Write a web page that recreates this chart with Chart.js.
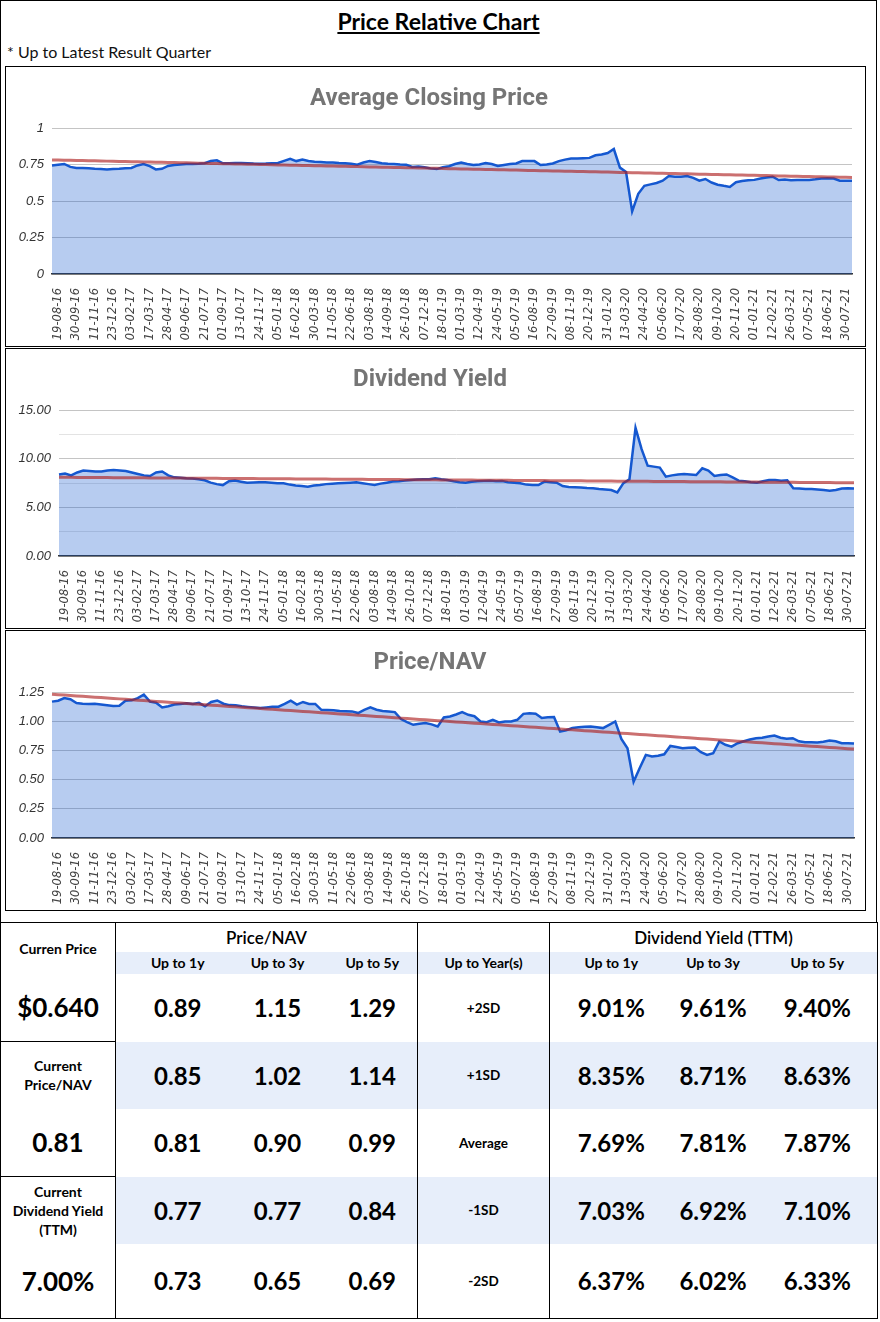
<!DOCTYPE html>
<html>
<head>
<meta charset="utf-8">
<script src="https://cdn.jsdelivr.net/npm/chart.js@4.4.0/dist/chart.umd.min.js"></script>
<style>
  body { margin: 0; background: #fff; font-family: Lato, 'Noto Sans', sans-serif; }
  #frame { position: absolute; left: 0; top: 0; width: 877px; height: 923px; border: 1px solid #000; box-sizing: border-box; }
  #title { position: absolute; top: 7px; left: 0; width: 877px; text-align: center; font: bold 23px/28px Lato, sans-serif; text-decoration: underline; }
  #note { position: absolute; top: 42px; left: 7px; font: 16px/19px Lato, sans-serif; color: #111; }
  .box { position: absolute; left: 5px; width: 861px; height: 281px; border: 1px solid #000; box-sizing: border-box; }
  .box div { position: relative; width: 859px; height: 279px; }
  table { position: absolute; left: 0; top: 922px; width: 877px; border-collapse: collapse; table-layout: fixed; }
  td { padding: 0; text-align: center; vertical-align: middle; font-weight: bold; color: #000; }
  .blue td { background: #e7eefa; }
  .blue td.left { background: #fff; }
  .lbl { font-size: 14px; line-height: 19px; }
  .grp { font-size: 17px; font-weight: 600; }
  .num { font-size: 24px; }
  .big { font-size: 26px; }
  .sd { font-size: 13.5px; }
  .vl { border-left: 1px solid #000; }
  .bb { border-bottom: 1px solid #000; }
  .p1 { padding-left: 12px; }
  .p5 { padding-left: 14px; }
  .p7 { padding-right: 10px; }
</style>
</head>
<body>
<div id="frame"></div>
<div id="title">Price Relative Chart</div>
<div id="note">* Up to Latest Result Quarter</div>
<div class="box" style="top:66px"><div><canvas id="c1"></canvas></div></div>
<div class="box" style="top:348px"><div><canvas id="c2"></canvas></div></div>
<div class="box" style="top:630px"><div><canvas id="c3"></canvas></div></div>
<table id="stats">
  <colgroup>
    <col style="width:115px"><col style="width:112px"><col style="width:100px"><col style="width:90px">
    <col style="width:132px"><col style="width:109px"><col style="width:109px"><col style="width:110px">
  </colgroup>
</table>
<script>
// x axis tick dates (every 6 weeks)
const tickDates = ['19-08-16', '30-09-16', '11-11-16', '23-12-16', '03-02-17', '17-03-17', '28-04-17', '09-06-17',
  '21-07-17', '01-09-17', '13-10-17', '24-11-17', '05-01-18', '16-02-18', '30-03-18', '11-05-18', '22-06-18',
  '03-08-18', '14-09-18', '26-10-18', '07-12-18', '18-01-19', '01-03-19', '12-04-19', '24-05-19', '05-07-19',
  '16-08-19', '27-09-19', '08-11-19', '20-12-19', '31-01-20', '13-03-20', '24-04-20', '05-06-20', '17-07-20',
  '28-08-20', '09-10-20', '20-11-20', '01-01-21', '12-02-21', '26-03-21', '07-05-21', '18-06-21', '30-07-21'];

// fortnightly readings, one before the first tick and one after the last
const closingPrice = [0.745,
  0.75, 0.755, 0.735, 0.728, 0.728, 0.725, 0.722, 0.72, 0.718, 0.72, 0.722, 0.726,
  0.728, 0.745, 0.755, 0.74, 0.718, 0.722, 0.742, 0.748, 0.752, 0.755, 0.755, 0.757,
  0.76, 0.775, 0.78, 0.76, 0.76, 0.762, 0.762, 0.76, 0.758, 0.757, 0.758, 0.76,
  0.762, 0.776, 0.79, 0.775, 0.785, 0.775, 0.77, 0.768, 0.766, 0.765, 0.762, 0.76,
  0.757, 0.75, 0.765, 0.776, 0.768, 0.76, 0.757, 0.755, 0.752, 0.75, 0.735, 0.738,
  0.733, 0.725, 0.72, 0.733, 0.74, 0.755, 0.765, 0.755, 0.748, 0.752, 0.762, 0.755,
  0.741, 0.748, 0.755, 0.759, 0.775, 0.775, 0.775, 0.748, 0.752, 0.759, 0.775, 0.785,
  0.793, 0.792, 0.795, 0.797, 0.815, 0.82, 0.83, 0.858, 0.73, 0.70, 0.43, 0.55,
  0.605, 0.615, 0.625, 0.64, 0.672, 0.668, 0.668, 0.673, 0.66, 0.64, 0.652, 0.628,
  0.613, 0.605, 0.598, 0.63, 0.638, 0.643, 0.646, 0.655, 0.662, 0.668, 0.645, 0.648,
  0.644, 0.646, 0.645, 0.646, 0.65, 0.655, 0.658, 0.655, 0.64, 0.64,
  0.64];

const dividendYield = [8.4,
  8.5, 8.3, 8.6, 8.8, 8.75, 8.7, 8.7, 8.8, 8.86, 8.8, 8.75, 8.6,
  8.45, 8.3, 8.24, 8.6, 8.7, 8.3, 8.1, 8.05, 8.0, 7.97, 7.9, 7.8,
  7.55, 7.4, 7.3, 7.69, 7.76, 7.65, 7.55, 7.56, 7.58, 7.59, 7.55, 7.5,
  7.48, 7.35, 7.25, 7.2, 7.14, 7.25, 7.31, 7.4, 7.45, 7.48, 7.52, 7.55,
  7.59, 7.5, 7.4, 7.31, 7.45, 7.55, 7.66, 7.7, 7.78, 7.83, 7.87, 7.9,
  7.9, 8.0, 7.9, 7.83, 7.7, 7.6, 7.55, 7.65, 7.7, 7.72, 7.75, 7.7,
  7.72, 7.6, 7.55, 7.48, 7.35, 7.3, 7.31, 7.66, 7.6, 7.55, 7.2, 7.1,
  7.07, 7.05, 7.0, 6.97, 6.9, 6.85, 6.79, 6.55, 7.5, 7.9, 13.2, 11.0,
  9.3, 9.2, 9.1, 8.17, 8.3, 8.4, 8.45, 8.4, 8.34, 9.03, 8.8, 8.24,
  8.34, 8.4, 8.1, 7.76, 7.7, 7.6, 7.55, 7.7, 7.83, 7.83, 7.75, 7.8,
  6.97, 6.95, 6.9, 6.9, 6.85, 6.8, 6.72, 6.8, 6.95, 6.97,
  6.95];

const priceNav = [1.17,
  1.178, 1.2, 1.19, 1.158, 1.152, 1.15, 1.152, 1.145, 1.138, 1.132, 1.135, 1.178,
  1.181, 1.2, 1.23, 1.17, 1.16, 1.12, 1.13, 1.145, 1.15, 1.155, 1.15, 1.16,
  1.13, 1.167, 1.18, 1.152, 1.14, 1.138, 1.13, 1.125, 1.12, 1.115, 1.12, 1.125,
  1.126, 1.15, 1.178, 1.144, 1.167, 1.15, 1.15, 1.1, 1.098, 1.095, 1.09, 1.088,
  1.086, 1.072, 1.1, 1.12, 1.1, 1.09, 1.086, 1.08, 1.02, 0.994, 0.971, 0.98,
  0.986, 0.975, 0.957, 1.034, 1.043, 1.06, 1.08, 1.057, 1.045, 1.0, 0.994, 1.014,
  0.991, 1.0, 1.0, 1.014, 1.065, 1.07, 1.066, 1.03, 1.035, 1.037, 0.914, 0.925,
  0.943, 0.95, 0.955, 0.957, 0.95, 0.943, 0.971, 1.0, 0.85, 0.77, 0.483, 0.6,
  0.713, 0.70, 0.705, 0.718, 0.79, 0.78, 0.77, 0.775, 0.776, 0.736, 0.713, 0.727,
  0.828, 0.8, 0.784, 0.813, 0.83, 0.845, 0.856, 0.86, 0.87, 0.879, 0.86, 0.851,
  0.856, 0.83, 0.822, 0.822, 0.82, 0.825, 0.836, 0.83, 0.813, 0.813,
  0.81];

// y tick labels
const priceTicks = ['0', '0.25', '0.5', '0.75', '1'];
const yieldTicks = ['0.00', '5.00', '10.00', '15.00'];
const navTicks = ['0.00', '0.25', '0.50', '0.75', '1.00', '1.25'];

// table values
const sdLabels = ['+2SD', '+1SD', 'Average', '-1SD', '-2SD'];
const navUp1y = ['0.89', '0.85', '0.81', '0.77', '0.73'];
const navUp3y = ['1.15', '1.02', '0.90', '0.77', '0.65'];
const navUp5y = ['1.29', '1.14', '0.99', '0.84', '0.69'];
const dyUp1y = ['9.01%', '8.35%', '7.69%', '7.03%', '6.37%'];
const dyUp3y = ['9.61%', '8.71%', '7.81%', '6.92%', '6.02%'];
const dyUp5y = ['9.40%', '8.63%', '7.87%', '7.10%', '6.33%'];
const leftCells = ['$0.640', 'Current<br>Price/NAV', '0.81', 'Current<br>Dividend Yield<br>(TTM)', '7.00%'];

// one label slot per reading, dates only on every third
const labels = [''];
tickDates.forEach((d, i) => {
    labels.push(d);
    if (i < tickDates.length - 1) labels.push('', '');
});
labels.push('');

function trendOf(values) {
    const n = values.length;
    let sx = 0, sy = 0, sxx = 0, sxy = 0;
    values.forEach((v, i) => { sx += i; sy += v; sxx += i * i; sxy += i * v; });
    const b = (n * sxy - sx * sy) / (n * sxx - sx * sx);
    const a = (sy - b * sx) / n;
    return values.map((v, i) => a + b * i);
}

Chart.defaults.font.family = "'Liberation Sans', Arial, sans-serif";

function createChart(id, title, values, yMax, step, ticks, yWidth, rightPad, titleTop) {
    const major = step * 2;
    new Chart(document.getElementById(id), {
        type: 'line',
        data: {
            labels: labels,
            datasets: [{
                data: trendOf(values),
                borderColor: 'rgba(175, 35, 35, 0.65)',
                borderWidth: 3,
                pointRadius: 0,
                fill: false,
                order: 0
            }, {
                data: values,
                borderColor: '#1558d0',
                borderWidth: 2.5,
                backgroundColor: 'rgba(17, 85, 204, 0.3)',
                pointRadius: 0,
                tension: 0,
                fill: 'origin',
                order: 1
            }]
        },
        options: {
            responsive: true,
            maintainAspectRatio: false,
            animation: false,
            layout: { padding: { left: 0, right: rightPad, top: 0, bottom: 0 } },
            plugins: {
                legend: { display: false },
                tooltip: { enabled: false },
                title: {
                    display: true,
                    text: title,
                    color: '#757575',
                    font: { family: 'Roboto', size: 24, weight: 'bold' },
                    padding: { top: titleTop, bottom: 32.5 - titleTop }
                }
            },
            scales: {
                x: {
                    grid: { display: false },
                    border: { display: true, color: '#333', width: 1.5 },
                    afterFit: scale => {
                        scale.height = 72;
                        // the rotated end labels should not push the plot inwards
                        scale.paddingLeft = 0;
                        scale.paddingRight = 0;
                    },
                    ticks: {
                        autoSkip: false,
                        minRotation: 90,
                        maxRotation: 90,
                        padding: 6,
                        color: '#444',
                        font: { family: "'DejaVu Sans'", size: 11.5, style: 'italic' }
                    }
                },
                y: {
                    min: 0,
                    max: yMax,
                    border: { display: false },
                    afterFit: scale => { scale.width = yWidth; },
                    grid: {
                        drawTicks: false,
                        color: ctx => Math.abs(Math.round(ctx.tick.value / major) * major - ctx.tick.value) < 1e-9 ? '#c4c4c4' : '#e3e3e3'
                    },
                    ticks: {
                        stepSize: step,
                        padding: 8,
                        color: '#333',
                        font: { size: 13, style: 'italic' },
                        callback: v => ticks.find(s => Math.abs(parseFloat(s) - v) < 1e-9) ?? ''
                    }
                }
            }
        }
    });
}

createChart('c1', 'Average Closing Price', closingPrice, 1, 0.125, priceTicks, 46, 13, 18);
createChart('c2', 'Dividend Yield', dividendYield, 15, 2.5, yieldTicks, 53, 11, 17);
createChart('c3', 'Price/NAV', priceNav, 1.25, 0.125, navTicks, 46, 11, 18);

// statistics table
const table = document.getElementById('stats');
const rowHeights = [68, 67, 68, 67, 75];
let html = '<tr style="height:29px"><td rowspan="2" class="lbl">Curren Price</td>' +
    '<td colspan="3" class="grp vl">Price/NAV</td><td class="vl"></td>' +
    '<td colspan="3" class="grp vl">Dividend Yield (TTM)</td></tr>' +
    '<tr class="blue" style="height:22px"><td class="lbl vl p1">Up to 1y</td><td class="lbl">Up to 3y</td><td class="lbl">Up to 5y</td>' +
    '<td class="lbl vl">Up to Year(s)</td><td class="lbl vl p5">Up to 1y</td><td class="lbl">Up to 3y</td><td class="lbl p7">Up to 5y</td></tr>';
sdLabels.forEach((sd, i) => {
    const leftClass = (i === 0 || i === 2) ? 'left bb' : 'left';
    const leftSize = (i % 2 === 1) ? 'lbl' : 'big';
    html += '<tr class="' + (i % 2 === 1 ? 'blue' : '') + '" style="height:' + rowHeights[i] + 'px">' +
        '<td class="' + leftClass + ' ' + leftSize + '">' + leftCells[i] + '</td>' +
        '<td class="num vl p1">' + navUp1y[i] + '</td><td class="num">' + navUp3y[i] + '</td><td class="num">' + navUp5y[i] + '</td>' +
        '<td class="sd vl">' + sd + '</td>' +
        '<td class="num vl p5">' + dyUp1y[i] + '</td><td class="num">' + dyUp3y[i] + '</td><td class="num p7">' + dyUp5y[i] + '</td></tr>';
});
table.insertAdjacentHTML('beforeend', html);
table.style.border = '1px solid #000';
</script>
</body>
</html>
